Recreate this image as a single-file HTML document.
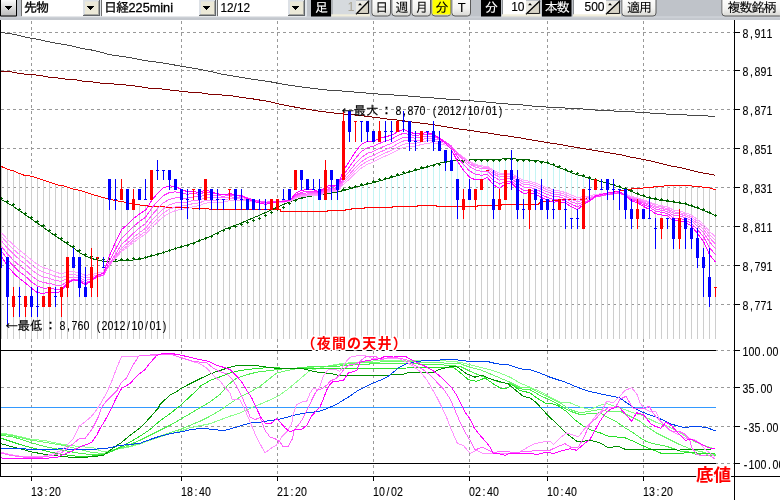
<!DOCTYPE html>
<html lang="ja"><head><meta charset="utf-8"><title>日経225mini 先物 チャート</title>
<style>
html,body{margin:0;padding:0;background:#fff;}
body{width:780px;height:500px;overflow:hidden;position:relative;font-family:'Liberation Sans','IPAGothic',sans-serif;}
</style></head><body>
<svg width="780" height="500" viewBox="0 0 780 500" style="position:absolute;left:0;top:0;display:block">
<rect x="0" y="0" width="780" height="500" fill="#fff"/>
<g stroke="#999" stroke-width="1" stroke-dasharray="3,3" shape-rendering="crispEdges" fill="none"><line x1="1" y1="32.5" x2="734" y2="32.5"/><line x1="1" y1="70.5" x2="734" y2="70.5"/><line x1="1" y1="109.5" x2="734" y2="109.5"/><line x1="1" y1="148.5" x2="734" y2="148.5"/><line x1="1" y1="187.5" x2="734" y2="187.5"/><line x1="1" y1="226.5" x2="734" y2="226.5"/><line x1="1" y1="265.5" x2="734" y2="265.5"/><line x1="1" y1="304.5" x2="734" y2="304.5"/><line x1="1" y1="387.5" x2="734" y2="387.5"/><line x1="1" y1="426.5" x2="734" y2="426.5"/><line x1="1" y1="350.5" x2="734" y2="350.5"/><line x1="1" y1="463.5" x2="734" y2="463.5"/><line x1="31.5" y1="21" x2="31.5" y2="476" stroke-dashoffset="0"/><line x1="181.5" y1="21" x2="181.5" y2="476" stroke-dashoffset="0"/><line x1="277.5" y1="21" x2="277.5" y2="476" stroke-dashoffset="0"/><line x1="373.5" y1="21" x2="373.5" y2="476" stroke-dashoffset="0"/><line x1="469.5" y1="21" x2="469.5" y2="476" stroke-dashoffset="0"/><line x1="547.5" y1="21" x2="547.5" y2="476" stroke-dashoffset="0"/><line x1="643.5" y1="21" x2="643.5" y2="476" stroke-dashoffset="0"/></g>
<path d="M1.5,167V339M7.5,169V339M13.5,171V339M19.5,174V339M25.5,176V339M31.5,176V339M37.5,178V339M43.5,180V339M49.5,182V339M55.5,184V339M61.5,186V339M67.5,187V339M73.5,189V339M79.5,190V339M85.5,192V339M91.5,194V339M97.5,196V339M103.5,198V339M109.5,199V339M115.5,201V339M121.5,201V339M127.5,203V339M133.5,204V339M139.5,205V339M145.5,206V339M151.5,206V339M157.5,207V339M163.5,207V339M169.5,207V339M175.5,208V339M181.5,208V339M187.5,208V339M193.5,208V339M199.5,208V339M205.5,208V339M211.5,210V339M217.5,210V339M223.5,210V339M229.5,210V339M235.5,210V339M241.5,210V339M247.5,210V339M253.5,210V339M259.5,210V339M265.5,210V339M271.5,210V339M277.5,210V339M283.5,212V339M289.5,212V339M295.5,212V339M301.5,212V339M307.5,212V339M313.5,212V339M319.5,212V339M325.5,212V339M331.5,210V339M337.5,210V339M343.5,210V339M349.5,210V339M355.5,208V339M361.5,208V339M367.5,208V339M373.5,208V339M379.5,208V339M385.5,208V339M391.5,208V339M397.5,206V339M403.5,206V339M409.5,206V339M415.5,206V339M421.5,206V339M427.5,206V339M433.5,206V339M439.5,206V339M445.5,206V339M451.5,206V339M457.5,206V339M463.5,206V339M469.5,206V339M475.5,206V339M481.5,206V339M487.5,206V339M493.5,206V339M499.5,206V339M505.5,204V339M511.5,204V339M517.5,204V339M523.5,204V339M529.5,204V339M535.5,204V339M541.5,202V339M547.5,201V339M553.5,201V339M559.5,200V339M565.5,200V339M571.5,200V339M577.5,200V339M583.5,199V339M589.5,198V339M595.5,196V339M601.5,195V339M607.5,194V339M613.5,192V339M619.5,191V339M625.5,190V339M631.5,189V339M637.5,188V339M643.5,188V339M649.5,187V339M655.5,187V339M661.5,186V339M667.5,186V339M673.5,186V339M679.5,186V339M685.5,186V339M691.5,186V339M697.5,186V339M703.5,187V339M709.5,188V339M715.5,190V339" stroke="#cecece" stroke-width="1" shape-rendering="crispEdges" fill="none"/>
<path d="M277.5,207V210M283.5,204V212M289.5,202V212M295.5,200V212M301.5,198V212M307.5,197V212M313.5,196V212M319.5,195V212M325.5,194V212M331.5,193V210M337.5,192V210M343.5,191V210M349.5,189V210M355.5,187V208M361.5,186V208M367.5,184V208M373.5,183V208M379.5,181V208M385.5,179V208M391.5,177V208M397.5,176V206M403.5,174V206M409.5,172V206M415.5,170V206M421.5,169V206M427.5,167V206M433.5,165V206M439.5,163V206M445.5,162V206M451.5,161V206M457.5,160V206M463.5,160V206M469.5,160V206M475.5,160V206M481.5,160V206M487.5,159V206M493.5,159V206M499.5,159V206M505.5,159V204M511.5,159V204M517.5,159V204M523.5,159V204M529.5,160V204M535.5,160V204M541.5,161V202M547.5,163V201M553.5,165V201M559.5,168V200M565.5,170V200M571.5,173V200M577.5,175V200M583.5,176V199M589.5,179V198M595.5,180V196M601.5,182V195M607.5,183V194M613.5,185V192M619.5,187V191M625.5,189V190" stroke="#c4f4f4" stroke-width="1" shape-rendering="crispEdges" fill="none"/>
<path d="M0,32.4 L1,32.5 L10,33.7 L16.7,35 L25,37 L31.7,38.3 L40,39.7 L48.3,41.7 L56.7,43.3 L66.7,45 L75,46.7 L83.3,48.7 L93.3,50.3 L101.7,52.5 L110,54.7 L120,56.2 L130,57.5 L140,59.7 L150,61.3 L160,62.5 L170,64.2 L181.7,66.3 L191.7,68 L201.7,69.7 L211.7,71.7 L221.7,74.2 L231.7,75.8 L241.7,77.5 L251.7,79.2 L260,80.3 L270,81.7 L280,83.7 L290,85.3 L300,86.7 L310,88 L320,89.2 L330,90.3 L340,90.8 L350,91.7 L360,92.5 L370,93.3 L380,94.2 L390,94.8 L400,95.3 L410,96.2 L420,97 L430,97.5 L440,98.7 L450,99.2 L460,100 L470,100.8 L480,101.3 L490,102.5 L500,103.3 L510,104.2 L520,104.7 L530,105.8 L540,106.7 L550,107.2 L561.7,107.5 L570,108.7 L580,108.7 L590,109.7 L600,110.3 L610,110.8 L620,111.3 L635,112 L643.3,112.5 L653.3,113.3 L670,114.2 L686.7,115 L703.3,115.8 L715.5,116.3" stroke="#484848" stroke-width="1" fill="none" shape-rendering="crispEdges"/>
<path d="M0,71.3 L1,71.3 L10,71.7 L16.7,73 L25,74.2 L33.3,74.7 L41.7,75.8 L50,77.5 L58.3,78 L66.7,79.2 L76.7,80 L83.3,81.3 L93.3,82 L101.7,83.3 L110,83.7 L120,84.5 L130,85.4 L140,86.7 L150,88.3 L160,88.8 L170,90 L181.7,91.3 L191.7,92.5 L201.7,93 L211.7,94.5 L221.7,95 L231.7,95.8 L241.7,97.5 L251.7,98.7 L260,100.1 L270,101.7 L280,104.2 L290,106.2 L300,108 L310,109.7 L320,111.3 L330,112.5 L340,113.7 L350,114.5 L360,115.5 L370,116.7 L380,118 L390,119.4 L400,120.3 L410,121.7 L420,123 L430,124.2 L440,125.8 L450,127.5 L460,129.2 L470,130.3 L480,132 L490,133.3 L500,135 L510,136.3 L520,137.9 L530,139.7 L540,141.3 L550,143 L560,144.5 L570,146.3 L580,148 L590,149.7 L600,151.3 L610,153 L620,154.6 L630,157 L640,158.7 L650,160.8 L660,163.3 L670,165.8 L680,167.5 L690,170 L700,172.5 L710,174.2 L715.5,175.3" stroke="#800000" stroke-width="1" fill="none" shape-rendering="crispEdges"/>
<path d="M0,166 L1,166.3 L7.5,169.2 L13.3,170.8 L20,173.8 L25,175.5 L31.7,176.2 L38.3,178.3 L45,180.8 L51.7,183 L58.3,185 L65,186.2 L71.7,188.8 L78.3,190 L85,192 L91.7,194.2 L98.3,196.2 L105,198 L110,199.2 L116.7,200.8 L123.3,201.7 L125,202.5 L135,204.2 L145,205.8 L158,206.7 L175,207.5 L192,208 L208,208.5 L210,209.5 L280,209.5 L281,211.5 L327,211.5 L328,210.5 L345,210.5 L346,209.5 L351,209.5 L352,208.5 L364,208.5 L365,207.5 L392,207.5 L393,206.5 L417,206.5 L418,205.5 L436,205.5 L437,206.5 L477,206.5 L478,205.5 L501,205.5 L502,204.5 L538,204.5 L540,202.5 L547,201.3 L555,200.8 L563,199.7 L578,199.7 L590,197.5 L622,190.3 L626.7,189.7 L633.3,188.7 L643.3,188 L656.7,186.7 L670,185.5 L686.7,185.5 L700,186.7 L710,188 L715.5,189.7" stroke="#ff0000" stroke-width="1" fill="none" shape-rendering="crispEdges"/>
<path d="M1.5,199.6 L7.5,203 L13.5,206.5 L19.5,210.7 L25.5,214.9 L31.5,219.1 L37.5,223.3 L43.5,227.5 L49.5,231.8 L55.5,236 L61.5,240.2 L67.5,244 L73.5,247.9 L79.5,252.5 L85.5,256.1 L91.5,258.4 L97.5,260.2 L103.5,261.4 L109.5,261.3 L115.5,261.1 L121.5,260.9 L127.5,260.6 L133.5,260 L139.5,259.3 L145.5,257.6 L151.5,255.9 L157.5,254.3 L163.5,252.6 L169.5,250.6 L175.5,248.5 L181.5,246.7 L187.5,244.9 L193.5,242.9 L199.5,240.7 L205.5,238.4 L211.5,235.9 L217.5,232.8 L223.5,229.7 L229.5,227.5 L235.5,225.3 L241.5,222.9 L247.5,220.2 L253.5,217.8 L259.5,215.3 L265.5,212.6 L271.5,209.9 L277.5,207.1 L283.5,204.4 L289.5,202 L295.5,199.6 L301.5,198.4 L307.5,196.7 L313.5,195.8 L319.5,195 L325.5,194 L331.5,193 L337.5,191.8 L343.5,190.6 L349.5,188.8 L355.5,187.2 L361.5,185.6 L367.5,184.1 L373.5,182.6 L379.5,180.9 L385.5,179.2 L391.5,177.4 L397.5,175.7 L403.5,173.8 L409.5,172.1 L415.5,170.3 L421.5,168.6 L427.5,166.9 L433.5,164.8 L439.5,163.1 L445.5,161.6 L451.5,160.8 L457.5,160 L463.5,160.1 L469.5,160 L475.5,159.9 L481.5,159.5 L487.5,159.1 L493.5,159.1 L499.5,159.1 L505.5,158.9 L511.5,158.7 L517.5,159.1 L523.5,159.5 L529.5,160 L535.5,160.5 L541.5,161.4 L547.5,163 L553.5,165.3 L559.5,167.8 L565.5,170 L571.5,172.9 L577.5,174.8 L583.5,176.3 L589.5,178.6 L595.5,180.2 L601.5,181.7 L607.5,183.2 L613.5,185.1 L619.5,187.1 L625.5,189.1 L631.5,191.5 L637.5,194.1 L643.5,196.1 L649.5,198.1 L655.5,199.3 L661.5,200.4 L667.5,201.2 L673.5,202 L679.5,203 L685.5,204 L691.5,206 L697.5,208 L703.5,210.4 L709.5,212.8 L715.5,215.7" stroke="#006400" stroke-width="1" fill="none" shape-rendering="crispEdges"/>
<path d="M0.0,198.5H3.0M1.5,197.0V200.0M6.0,201.5H9.0M7.5,200.0V203.0M12.0,204.5H15.0M13.5,203.0V206.0M18.0,209.5H21.0M19.5,208.0V211.0M24.0,213.5H27.0M25.5,212.0V215.0M30.0,217.5H33.0M31.5,216.0V219.0M36.0,221.5H39.0M37.5,220.0V223.0M42.0,225.5H45.0M43.5,224.0V227.0M48.0,230.5H51.0M49.5,229.0V232.0M54.0,234.5H57.0M55.5,233.0V236.0M60.0,238.5H63.0M61.5,237.0V240.0M66.0,242.5H69.0M67.5,241.0V244.0M72.0,246.5H75.0M73.5,245.0V248.0M78.0,250.5H81.0M79.5,249.0V252.0M84.0,254.5H87.0M85.5,253.0V256.0M90.0,256.5H93.0M91.5,255.0V258.0M96.0,258.5H99.0M97.5,257.0V260.0M102.0,259.5H105.0M103.5,258.0V261.0M108.0,259.5H111.0M109.5,258.0V261.0M114.0,259.5H117.0M115.5,258.0V261.0M120.0,259.5H123.0M121.5,258.0V261.0M126.0,259.5H129.0M127.5,258.0V261.0M132.0,258.5H135.0M133.5,257.0V260.0M138.0,258.5H141.0M139.5,257.0V260.0M144.0,257.5H147.0M145.5,256.0V259.0M150.0,255.5H153.0M151.5,254.0V257.0M156.0,254.5H159.0M157.5,253.0V256.0M162.0,252.5H165.0M163.5,251.0V254.0M168.0,250.5H171.0M169.5,249.0V252.0M174.0,248.5H177.0M175.5,247.0V250.0M180.0,246.5H183.0M181.5,245.0V248.0M186.0,245.5H189.0M187.5,244.0V247.0M192.0,243.5H195.0M193.5,242.0V245.0M198.0,240.5H201.0M199.5,239.0V242.0M204.0,238.5H207.0M205.5,237.0V240.0M210.0,236.5H213.0M211.5,235.0V238.0M216.0,233.5H219.0M217.5,232.0V235.0M222.0,230.5H225.0M223.5,229.0V232.0M228.0,228.5H231.0M229.5,227.0V230.0M234.0,226.5H237.0M235.5,225.0V228.0M240.0,224.5H243.0M241.5,223.0V226.0M246.0,222.5H249.0M247.5,221.0V224.0M252.0,220.5H255.0M253.5,219.0V222.0M258.0,218.5H261.0M259.5,217.0V220.0M264.0,215.5H267.0M265.5,214.0V217.0M270.0,212.5H273.0M271.5,211.0V214.0M276.0,209.5H279.0M277.5,208.0V211.0M282.0,207.5H285.0M283.5,206.0V209.0M288.0,203.5H291.0M289.5,202.0V205.0M294.0,200.5H297.0M295.5,199.0V202.0M300.0,197.5H303.0M301.5,196.0V199.0M306.0,195.5H309.0M307.5,194.0V197.0M312.0,194.5H315.0M313.5,193.0V196.0M318.0,193.5H321.0M319.5,192.0V195.0M324.0,192.5H327.0M325.5,191.0V194.0M330.0,191.5H333.0M331.5,190.0V193.0M336.0,190.5H339.0M337.5,189.0V192.0M342.0,189.5H345.0M343.5,188.0V191.0M348.0,187.5H351.0M349.5,186.0V189.0M354.0,186.5H357.0M355.5,185.0V188.0M360.0,184.5H363.0M361.5,183.0V186.0M366.0,183.5H369.0M367.5,182.0V185.0M372.0,181.5H375.0M373.5,180.0V183.0M378.0,179.5H381.0M379.5,178.0V181.0M384.0,178.5H387.0M385.5,177.0V180.0M390.0,176.5H393.0M391.5,175.0V178.0M396.0,174.5H399.0M397.5,173.0V176.0M402.0,172.5H405.0M403.5,171.0V174.0M408.0,171.5H411.0M409.5,170.0V173.0M414.0,169.5H417.0M415.5,168.0V171.0M420.0,167.5H423.0M421.5,166.0V169.0M426.0,166.5H429.0M427.5,165.0V168.0M432.0,165.5H435.0M433.5,164.0V167.0M438.0,164.5H441.0M439.5,163.0V166.0M444.0,162.5H447.0M445.5,161.0V164.0M450.0,161.5H453.0M451.5,160.0V163.0M456.0,160.5H459.0M457.5,159.0V162.0M462.0,161.5H465.0M463.5,160.0V163.0M468.0,161.5H471.0M469.5,160.0V163.0M474.0,160.5H477.0M475.5,159.0V162.0M480.0,160.5H483.0M481.5,159.0V162.0M486.0,160.5H489.0M487.5,159.0V162.0M492.0,160.5H495.0M493.5,159.0V162.0M498.0,160.5H501.0M499.5,159.0V162.0M504.0,159.5H507.0M505.5,158.0V161.0M510.0,159.5H513.0M511.5,158.0V161.0M516.0,160.5H519.0M517.5,159.0V162.0M522.0,160.5H525.0M523.5,159.0V162.0M528.0,160.5H531.0M529.5,159.0V162.0M534.0,161.5H537.0M535.5,160.0V163.0M540.0,162.5H543.0M541.5,161.0V164.0M546.0,162.5H549.0M547.5,161.0V164.0M552.0,164.5H555.0M553.5,163.0V166.0M558.0,166.5H561.0M559.5,165.0V168.0M564.0,169.5H567.0M565.5,168.0V171.0M570.0,171.5H573.0M571.5,170.0V173.0M576.0,173.5H579.0M577.5,172.0V175.0M582.0,175.5H585.0M583.5,174.0V177.0M588.0,177.5H591.0M589.5,176.0V179.0M594.0,179.5H597.0M595.5,178.0V181.0M600.0,181.5H603.0M601.5,180.0V183.0M606.0,182.5H609.0M607.5,181.0V184.0M612.0,184.5H615.0M613.5,183.0V186.0M618.0,186.5H621.0M619.5,185.0V188.0M624.0,188.5H627.0M625.5,187.0V190.0M630.0,190.5H633.0M631.5,189.0V192.0M636.0,193.5H639.0M637.5,192.0V195.0M642.0,195.5H645.0M643.5,194.0V197.0M648.0,197.5H651.0M649.5,196.0V199.0M654.0,198.5H657.0M655.5,197.0V200.0M660.0,199.5H663.0M661.5,198.0V201.0M666.0,200.5H669.0M667.5,199.0V202.0M672.0,201.5H675.0M673.5,200.0V203.0M678.0,202.5H681.0M679.5,201.0V204.0M684.0,203.5H687.0M685.5,202.0V205.0M690.0,205.5H693.0M691.5,204.0V207.0M696.0,207.5H699.0M697.5,206.0V209.0M702.0,209.5H705.0M703.5,208.0V211.0M708.0,212.5H711.0M709.5,211.0V214.0M714.0,215.5H717.0M715.5,214.0V217.0" stroke="#006400" stroke-width="1" fill="none" shape-rendering="crispEdges"/>
<path d="M1.5,233 L7.5,239.3 L13.5,245 L19.5,250.2 L25.5,254.8 L31.5,259.9 L37.5,264.5 L43.5,267.7 L49.5,269.6 L55.5,272.3 L61.5,273.7 L67.5,272.1 L73.5,271.6 L79.5,273.1 L85.5,275.4 L91.5,274.6 L97.5,272.9 L103.5,272.3 L109.5,265 L115.5,258.4 L121.5,251.5 L127.5,247.2 L133.5,242.4 L139.5,238 L145.5,234.1 L151.5,227.7 L157.5,221.9 L163.5,216.7 L169.5,212.9 L175.5,210.6 L181.5,209.4 L187.5,208.4 L193.5,206.5 L199.5,205.7 L205.5,203.1 L211.5,202.7 L217.5,202.3 L223.5,202 L229.5,200.7 L235.5,200.5 L241.5,200.4 L247.5,201.2 L253.5,201.9 L259.5,202.6 L265.5,203.2 L271.5,202.8 L277.5,202.4 L283.5,202.1 L289.5,201.8 L295.5,198.6 L301.5,196.7 L307.5,195.9 L313.5,195.2 L319.5,195.6 L325.5,193 L331.5,191.7 L337.5,191.4 L343.5,184.4 L349.5,179 L355.5,173.2 L361.5,168 L367.5,164.3 L373.5,161.9 L379.5,158.8 L385.5,156 L391.5,153.5 L397.5,150.2 L403.5,147.3 L409.5,146.6 L415.5,146 L421.5,144.5 L427.5,143.1 L433.5,142.9 L439.5,143.6 L445.5,145.2 L451.5,147.7 L457.5,152.8 L463.5,157.4 L469.5,161.6 L475.5,164.3 L481.5,165.9 L487.5,166.3 L493.5,170.5 L499.5,173.3 L505.5,173 L511.5,173.6 L517.5,177.1 L523.5,180.3 L529.5,181.2 L535.5,183 L541.5,185.5 L547.5,187.9 L553.5,189.9 L559.5,190.8 L565.5,192.6 L571.5,195.2 L577.5,197.5 L583.5,196.7 L589.5,196 L595.5,194.3 L601.5,193.8 L607.5,193.3 L613.5,192.9 L619.5,192.6 L625.5,194.2 L631.5,196.6 L637.5,197.8 L643.5,199.9 L649.5,201.7 L655.5,204.4 L661.5,205.8 L667.5,207 L673.5,210.1 L679.5,211 L685.5,212.7 L691.5,215.2 L697.5,219.4 L703.5,224.2 L709.5,231.4 L715.5,236.9" stroke="#ffa4ff" stroke-width="1" fill="none" shape-rendering="crispEdges"/>
<path d="M1.5,236.6 L7.5,243.3 L13.5,249.3 L19.5,254.6 L25.5,259.3 L31.5,264.6 L37.5,269.2 L43.5,272.3 L49.5,273.9 L55.5,276.4 L61.5,277.6 L67.5,275.3 L73.5,274.4 L79.5,275.8 L85.5,278.1 L91.5,276.8 L97.5,274.7 L103.5,273.8 L109.5,265.4 L115.5,257.9 L121.5,250.2 L127.5,245.5 L133.5,240.3 L139.5,235.6 L145.5,231.5 L151.5,224.6 L157.5,218.4 L163.5,212.9 L169.5,209.2 L175.5,206.9 L181.5,206 L187.5,205.2 L193.5,203.4 L199.5,202.9 L205.5,200.3 L211.5,200.1 L217.5,200 L223.5,199.9 L229.5,198.7 L235.5,198.7 L241.5,198.7 L247.5,199.9 L253.5,200.9 L259.5,201.7 L265.5,202.5 L271.5,202.1 L277.5,201.8 L283.5,201.5 L289.5,201.2 L295.5,197.6 L301.5,195.6 L307.5,194.9 L313.5,194.2 L319.5,194.8 L325.5,192 L331.5,190.6 L337.5,190.4 L343.5,182.6 L349.5,176.8 L355.5,170.5 L361.5,164.9 L367.5,161.1 L373.5,158.8 L379.5,155.6 L385.5,152.8 L391.5,150.4 L397.5,147.1 L403.5,144.1 L409.5,143.7 L415.5,143.4 L421.5,141.9 L427.5,140.7 L433.5,140.7 L439.5,141.7 L445.5,143.8 L451.5,146.7 L457.5,152.6 L463.5,157.8 L469.5,162.4 L475.5,165.5 L481.5,167 L487.5,167.3 L493.5,172 L499.5,175 L505.5,174.4 L511.5,175 L517.5,178.8 L523.5,182.2 L529.5,182.9 L535.5,184.8 L541.5,187.4 L547.5,189.8 L553.5,192 L559.5,192.7 L565.5,194.5 L571.5,197.2 L577.5,199.6 L583.5,198.4 L589.5,197.4 L595.5,195.4 L601.5,194.7 L607.5,194.1 L613.5,193.5 L619.5,193 L625.5,194.8 L631.5,197.5 L637.5,198.7 L643.5,200.9 L649.5,202.9 L655.5,205.8 L661.5,207.2 L667.5,208.5 L673.5,211.8 L679.5,212.5 L685.5,214.3 L691.5,216.9 L697.5,221.5 L703.5,226.6 L709.5,234.5 L715.5,240.3" stroke="#ff90ff" stroke-width="1" fill="none" shape-rendering="crispEdges"/>
<path d="M1.5,241 L7.5,248.1 L13.5,254.2 L19.5,259.6 L25.5,264.3 L31.5,269.6 L37.5,274.3 L43.5,277.1 L49.5,278.3 L55.5,280.6 L61.5,281.4 L67.5,278.3 L73.5,276.9 L79.5,278.1 L85.5,280.5 L91.5,278.8 L97.5,276 L103.5,274.9 L109.5,265.2 L115.5,256.8 L121.5,248.2 L127.5,243.1 L133.5,237.5 L139.5,232.6 L145.5,228.3 L151.5,220.8 L157.5,214.3 L163.5,208.6 L169.5,204.9 L175.5,202.9 L181.5,202.4 L187.5,202 L193.5,200.3 L199.5,200.2 L205.5,197.5 L211.5,197.7 L217.5,197.9 L223.5,198 L229.5,196.9 L235.5,197.2 L241.5,197.4 L247.5,198.8 L253.5,200.1 L259.5,201.2 L265.5,202.1 L271.5,201.7 L277.5,201.4 L283.5,201.1 L289.5,200.8 L295.5,196.8 L301.5,194.6 L307.5,193.9 L313.5,193.3 L319.5,194.1 L325.5,191 L331.5,189.5 L337.5,189.5 L343.5,180.7 L349.5,174.4 L355.5,167.6 L361.5,161.6 L367.5,157.7 L373.5,155.5 L379.5,152.4 L385.5,149.6 L391.5,147.2 L397.5,143.9 L403.5,141 L409.5,140.9 L415.5,140.9 L421.5,139.6 L427.5,138.4 L433.5,138.7 L439.5,140.2 L445.5,142.7 L451.5,146.2 L457.5,152.9 L463.5,158.8 L469.5,163.9 L475.5,167.1 L481.5,168.7 L487.5,168.8 L493.5,173.9 L499.5,177.1 L505.5,176.2 L511.5,176.6 L517.5,180.7 L523.5,184.3 L529.5,184.9 L535.5,186.7 L541.5,189.5 L547.5,191.9 L553.5,194.1 L559.5,194.7 L565.5,196.5 L571.5,199.3 L577.5,201.7 L583.5,200.1 L589.5,198.7 L595.5,196.3 L601.5,195.4 L607.5,194.6 L613.5,193.9 L619.5,193.3 L625.5,195.3 L631.5,198.2 L637.5,199.6 L643.5,202 L649.5,204.1 L655.5,207.1 L661.5,208.6 L667.5,209.8 L673.5,213.4 L679.5,214.1 L685.5,215.9 L691.5,218.7 L697.5,223.6 L703.5,229.2 L709.5,237.7 L715.5,244" stroke="#ff78ff" stroke-width="1" fill="none" shape-rendering="crispEdges"/>
<path d="M1.5,246.5 L7.5,254 L13.5,260.3 L19.5,265.7 L25.5,270.3 L31.5,275.7 L37.5,280.3 L43.5,282.7 L49.5,283.3 L55.5,285.2 L61.5,285.4 L67.5,281.2 L73.5,279.1 L79.5,280.2 L85.5,282.7 L91.5,280.3 L97.5,276.9 L103.5,275.4 L109.5,264 L115.5,254.2 L121.5,244.5 L127.5,239.1 L133.5,233.1 L139.5,228 L145.5,223.6 L151.5,215.5 L157.5,208.7 L163.5,202.8 L169.5,199.3 L175.5,197.8 L181.5,198 L187.5,198.1 L193.5,196.8 L199.5,197.1 L205.5,194.5 L211.5,195.1 L217.5,195.7 L223.5,196.2 L229.5,195.2 L235.5,195.7 L241.5,196.2 L247.5,198.1 L253.5,199.7 L259.5,201 L265.5,202.2 L271.5,201.7 L277.5,201.3 L283.5,200.9 L289.5,200.6 L295.5,196 L301.5,193.5 L307.5,192.9 L313.5,192.3 L319.5,193.3 L325.5,189.8 L331.5,188.2 L337.5,188.4 L343.5,178.3 L349.5,171.2 L355.5,163.6 L361.5,157.3 L367.5,153.3 L373.5,151.4 L379.5,148.3 L385.5,145.7 L391.5,143.4 L397.5,140.1 L403.5,137.2 L409.5,137.7 L415.5,138.1 L421.5,137 L427.5,136.1 L433.5,136.8 L439.5,138.8 L445.5,142 L451.5,146.1 L457.5,154.1 L463.5,160.8 L469.5,166.5 L475.5,169.9 L481.5,171.4 L487.5,171.1 L493.5,176.8 L499.5,180.1 L505.5,178.5 L511.5,178.7 L517.5,183.2 L523.5,187 L529.5,187.3 L535.5,189.1 L541.5,192 L547.5,194.5 L553.5,196.7 L559.5,197 L565.5,198.8 L571.5,201.7 L577.5,204.2 L583.5,202 L589.5,200.1 L595.5,197 L601.5,195.8 L607.5,194.8 L613.5,194 L619.5,193.3 L625.5,195.6 L631.5,199 L637.5,200.5 L643.5,203.2 L649.5,205.5 L655.5,208.9 L661.5,210.3 L667.5,211.5 L673.5,215.5 L679.5,215.9 L685.5,217.8 L691.5,220.8 L697.5,226.3 L703.5,232.4 L709.5,242 L715.5,248.7" stroke="#ff58ff" stroke-width="1" fill="none" shape-rendering="crispEdges"/>
<path d="M1.5,251 L7.5,259.4 L13.5,266.2 L19.5,271.8 L25.5,276.3 L31.5,281.9 L37.5,286.3 L43.5,288.2 L49.5,287.9 L55.5,289.5 L61.5,288.9 L67.5,283.1 L73.5,280.2 L79.5,281.3 L85.5,284.1 L91.5,281 L97.5,276.6 L103.5,274.9 L109.5,260.8 L115.5,249.4 L121.5,238.2 L127.5,232.8 L133.5,226.5 L139.5,221.4 L145.5,217.3 L151.5,208.5 L157.5,201.3 L163.5,195.5 L169.5,192.5 L175.5,191.9 L181.5,193.2 L187.5,194.3 L193.5,193.3 L199.5,194.4 L205.5,191.6 L211.5,193 L217.5,194.1 L223.5,195 L229.5,193.9 L235.5,194.9 L241.5,195.6 L247.5,198 L253.5,200 L259.5,201.6 L265.5,202.9 L271.5,202.2 L277.5,201.6 L283.5,201.1 L289.5,200.7 L295.5,195 L301.5,192.1 L307.5,191.6 L313.5,191.1 L319.5,192.6 L325.5,188.4 L331.5,186.7 L337.5,187.2 L343.5,174.9 L349.5,166.8 L355.5,158.3 L361.5,151.4 L367.5,147.6 L373.5,146.3 L379.5,143.4 L385.5,141.1 L391.5,139.2 L397.5,135.8 L403.5,133.1 L409.5,134.5 L415.5,135.6 L421.5,134.7 L427.5,134 L433.5,135.2 L439.5,138 L445.5,142 L451.5,147.2 L457.5,156.8 L463.5,164.6 L469.5,170.9 L475.5,174.3 L481.5,175.3 L487.5,174.2 L493.5,180.6 L499.5,184 L505.5,181.4 L511.5,181 L517.5,186.1 L523.5,190.3 L529.5,190.1 L535.5,191.7 L541.5,194.9 L547.5,197.4 L553.5,199.5 L559.5,199.4 L565.5,201.1 L571.5,204.3 L577.5,206.9 L583.5,203.7 L589.5,201 L595.5,197 L601.5,195.6 L607.5,194.4 L613.5,193.4 L619.5,192.7 L625.5,195.6 L631.5,199.8 L637.5,201.5 L643.5,204.6 L649.5,207.2 L655.5,211.1 L661.5,212.4 L667.5,213.5 L673.5,218.1 L679.5,218.1 L685.5,220 L691.5,223.3 L697.5,229.6 L703.5,236.6 L709.5,247.6 L715.5,254.8" stroke="#ff30ff" stroke-width="1" fill="none" shape-rendering="crispEdges"/>
<path d="M1.5,256.4 L7.5,265.9 L13.5,273.1 L19.5,278.6 L25.5,282.9 L31.5,288.4 L37.5,292.6 L43.5,293.5 L49.5,291.9 L55.5,292.9 L61.5,291.4 L67.5,283.3 L73.5,279.5 L79.5,281.2 L85.5,284.8 L91.5,280.6 L97.5,275.1 L103.5,273.2 L109.5,255.6 L115.5,242.1 L121.5,229.6 L127.5,224.6 L133.5,218.5 L139.5,213.9 L145.5,210.3 L151.5,200.7 L157.5,193.3 L163.5,187.7 L169.5,185.8 L175.5,186.6 L181.5,189.5 L187.5,191.8 L193.5,191.2 L199.5,193 L205.5,189.8 L211.5,192 L217.5,193.6 L223.5,194.9 L229.5,193.6 L235.5,194.8 L241.5,195.8 L247.5,198.9 L253.5,201.2 L259.5,203 L265.5,204.3 L271.5,203.1 L277.5,202.1 L283.5,201.3 L289.5,200.8 L295.5,193.4 L301.5,190.1 L307.5,189.9 L313.5,189.7 L319.5,191.9 L325.5,186.7 L331.5,185 L337.5,186 L343.5,170.5 L349.5,161.1 L355.5,151.6 L361.5,144.3 L367.5,141.1 L373.5,141 L379.5,138.6 L385.5,136.7 L391.5,135.3 L397.5,131.9 L403.5,129.3 L409.5,132 L415.5,134 L421.5,133.2 L427.5,132.7 L433.5,134.5 L439.5,138.3 L445.5,143.4 L451.5,149.7 L457.5,161.4 L463.5,170.3 L469.5,177.1 L475.5,180 L481.5,179.9 L487.5,177.5 L493.5,184.9 L499.5,188.2 L505.5,183.8 L511.5,182.8 L517.5,189 L523.5,193.6 L529.5,192.6 L535.5,194.1 L541.5,197.6 L547.5,200.2 L553.5,202.2 L559.5,201.5 L565.5,203.2 L571.5,206.8 L577.5,209.6 L583.5,204.7 L589.5,201 L595.5,195.9 L601.5,194.3 L607.5,193.1 L613.5,192.2 L619.5,191.5 L625.5,195.6 L631.5,201 L637.5,202.8 L643.5,206.5 L649.5,209.4 L655.5,213.8 L661.5,214.9 L667.5,215.8 L673.5,221 L679.5,220.4 L685.5,222.3 L691.5,226 L697.5,233.4 L703.5,241.4 L709.5,254.5 L715.5,262.1" stroke="#ff00ff" stroke-width="1" fill="none" shape-rendering="crispEdges"/>
<path d="M13,287h1V317h-1zM12,296h3V307h-3zM25,296h1V317h-1zM24,296h3V307h-3zM43,296h1V307h-1zM42,296h3V307h-3zM49,287h1V307h-1zM48,287h3V307h-3zM61,287h1V317h-1zM60,287h3V297h-3zM67,257h1V297h-1zM66,257h3V288h-3zM91,248h1V297h-1zM90,267h3V288h-3zM97,257h1V297h-1zM96,257h3v1h-3zM121,179h1V200h-1zM120,189h3V200h-3zM133,189h1V210h-1zM132,199h3V210h-3zM151,170h1V200h-1zM150,170h3V200h-3zM193,189h1V200h-1zM192,189h3v1h-3zM205,179h1V200h-1zM204,179h3V200h-3zM229,189h1V200h-1zM228,189h3v1h-3zM271,199h1V210h-1zM270,199h3V210h-3zM277,199h1V210h-1zM276,199h3V210h-3zM295,170h1V190h-1zM294,170h3V190h-3zM325,160h1V200h-1zM324,170h3V200h-3zM343,111h1V180h-1zM342,121h3V180h-3zM355,121h1V142h-1zM354,121h3v1h-3zM379,121h1V142h-1zM378,131h3V142h-3zM397,121h1V132h-1zM396,121h3V132h-3zM421,131h1V142h-1zM420,131h3V142h-3zM463,189h1V219h-1zM462,199h3V210h-3zM475,189h1V210h-1zM474,189h3V200h-3zM481,179h1V190h-1zM480,179h3V190h-3zM486,170h3v1h-3zM499,189h1V210h-1zM498,199h3V210h-3zM505,170h1V200h-1zM504,170h3V200h-3zM529,189h1V229h-1zM528,189h3V210h-3zM559,199h1V210h-1zM558,199h3V210h-3zM583,189h1V229h-1zM582,189h3V229h-3zM595,179h1V190h-1zM594,179h3V190h-3zM637,199h1V229h-1zM636,209h3V219h-3zM661,218h1V239h-1zM660,218h3V229h-3zM679,209h1V249h-1zM678,218h3V239h-3zM715,287h1V297h-1zM714,287h3v1h-3z" fill="#ff0000" shape-rendering="crispEdges"/>
<path d="M0,248h1V268h-1zM-1,248h3V268h-3zM7,257h1V327h-1zM6,257h3V297h-3zM19,287h1V317h-1zM18,296h3v1h-3zM31,287h1V317h-1zM30,296h3V307h-3zM37,287h1V317h-1zM36,306h3v1h-3zM55,287h1V307h-1zM54,296h3v1h-3zM73,248h1V268h-1zM72,257h3V268h-3zM79,257h1V297h-1zM78,257h3V288h-3zM85,267h1V297h-1zM84,287h3V297h-3zM103,257h1V268h-1zM102,267h3v1h-3zM109,179h1V210h-1zM108,179h3V200h-3zM115,179h1V210h-1zM114,199h3v1h-3zM127,189h1V210h-1zM126,189h3V210h-3zM139,189h1V200h-1zM138,189h3V200h-3zM145,179h1V200h-1zM144,199h3v1h-3zM157,160h1V180h-1zM156,170h3v1h-3zM163,170h1V180h-1zM162,170h3v1h-3zM169,170h1V190h-1zM168,170h3V180h-3zM175,179h1V190h-1zM174,179h3V190h-3zM181,189h1V210h-1zM180,189h3V200h-3zM187,189h1V219h-1zM186,199h3v1h-3zM199,189h1V210h-1zM198,189h3V200h-3zM211,189h1V210h-1zM210,189h3V200h-3zM217,189h1V210h-1zM216,199h3v1h-3zM223,199h1V210h-1zM222,199h3v1h-3zM235,189h1V210h-1zM234,189h3V200h-3zM241,189h1V210h-1zM240,199h3v1h-3zM247,199h1V210h-1zM246,199h3V210h-3zM253,199h1V210h-1zM252,199h3V210h-3zM259,199h1V210h-1zM258,209h3v1h-3zM265,199h1V210h-1zM264,209h3v1h-3zM283,189h1V200h-1zM282,199h3v1h-3zM289,189h1V200h-1zM288,189h3V200h-3zM301,170h1V190h-1zM300,170h3V180h-3zM307,179h1V190h-1zM306,179h3V190h-3zM313,179h1V190h-1zM312,189h3v1h-3zM319,179h1V200h-1zM318,189h3V200h-3zM331,170h1V200h-1zM330,170h3V180h-3zM337,179h1V200h-1zM336,179h3V190h-3zM349,111h1V142h-1zM348,111h3V132h-3zM361,121h1V142h-1zM360,121h3v1h-3zM367,121h1V142h-1zM366,121h3V132h-3zM373,131h1V142h-1zM372,131h3V142h-3zM385,121h1V142h-1zM384,131h3v1h-3zM391,121h1V142h-1zM390,131h3v1h-3zM403,111h1V132h-1zM402,121h3v1h-3zM409,121h1V151h-1zM408,121h3V142h-3zM415,131h1V151h-1zM414,141h3v1h-3zM427,131h1V142h-1zM426,131h3v1h-3zM433,121h1V151h-1zM432,131h3V142h-3zM439,131h1V151h-1zM438,141h3V151h-3zM445,150h1V171h-1zM444,150h3V161h-3zM451,150h1V171h-1zM450,160h3V171h-3zM457,179h1V219h-1zM456,179h3V200h-3zM469,179h1V200h-1zM468,189h3V200h-3zM493,170h1V219h-1zM492,199h3V210h-3zM511,150h1V190h-1zM510,170h3V180h-3zM517,170h1V219h-1zM516,179h3V210h-3zM523,199h1V219h-1zM522,209h3v1h-3zM535,189h1V210h-1zM534,189h3V200h-3zM541,179h1V210h-1zM540,199h3V210h-3zM547,199h1V219h-1zM546,199h3V210h-3zM553,189h1V219h-1zM552,209h3v1h-3zM565,199h1V229h-1zM564,209h3v1h-3zM571,218h1V229h-1zM570,218h3v1h-3zM577,209h1V229h-1zM576,218h3v1h-3zM589,179h1V200h-1zM588,189h3v1h-3zM601,179h1V190h-1zM600,189h3v1h-3zM607,179h1V200h-1zM606,179h3V190h-3zM613,179h1V200h-1zM612,189h3v1h-3zM619,189h1V210h-1zM618,189h3v1h-3zM625,189h1V219h-1zM624,189h3V210h-3zM631,199h1V229h-1zM630,209h3V219h-3zM643,209h1V219h-1zM642,209h3V219h-3zM649,199h1V219h-1zM648,218h3v1h-3zM655,218h1V249h-1zM654,228h3v1h-3zM667,218h1V229h-1zM666,218h3v1h-3zM673,218h1V249h-1zM672,218h3V239h-3zM685,218h1V249h-1zM684,218h3V229h-3zM691,218h1V249h-1zM690,228h3V239h-3zM697,228h1V268h-1zM696,238h3V258h-3zM703,248h1V297h-1zM702,257h3V268h-3zM709,248h1V307h-1zM708,277h3V297h-3z" fill="#0000ff" shape-rendering="crispEdges"/>
<line x1="1" y1="407.5" x2="716" y2="407.5" stroke="#3399ff" stroke-width="1.2" shape-rendering="crispEdges"/>
<path d="M0,432.8 L13.3,435 L31.7,439.5 L43.3,440.3 L63.3,444.5 L76.7,446.2 L93.3,447.8 L103.3,452 L116.7,449 L120,448.7 L130,446.7 L140,444 L150,440.3 L160,437 L170,433.7 L180,431.2 L190,427.8 L200,425.7 L210,423.7 L220,420 L230,416.2 L240,412.9 L250,408.4 L260,404.2 L270,400 L280,395 L288.3,388.8 L298.3,380.5 L305,374.7 L310,370.5 L320,368 L330,365.5 L340,363.8 L356.7,362.2 L373.3,361 L390,360.5 L406.7,360 L423.3,360 L440,360.5 L453.3,361.7 L460,362.2 L470,364.7 L480,367.2 L490,369.7 L500,373 L510,377.2 L520,383 L530,387.2 L540,391.3 L550,397 L560,402 L570,402.8 L580,407 L590,409.5 L600,405.3 L606.7,403.7 L616.7,407 L626.7,410.3 L636.7,414 L640,414.6 L647.8,418.2 L655.6,422.1 L663.4,424.7 L671.2,428 L679,431.9 L686.8,437.1 L694.6,441.6 L702.4,444.9 L710.2,447.5 L715.5,449.2" stroke="#8cff8c" stroke-width="1" fill="none" stroke-linejoin="round" shape-rendering="crispEdges"/>
<path d="M0,434 L13.3,435.7 L31.7,440.3 L43.3,442 L63.3,445.3 L76.7,448.7 L90,452 L103.3,453.7 L116.7,449.5 L120,448.3 L130,446.2 L140,443.3 L150,439.5 L160,436.2 L170,432.8 L180,429.5 L190,425.3 L200,421.2 L210,416.2 L220,410.3 L230,403.5 L240,397 L250,392 L260,386.3 L268.3,379.7 L276.7,373 L286.7,370.5 L296.7,368.8 L310,367.2 L326.7,366.3 L340,364.7 L356.7,363 L373.3,362.2 L390,361.7 L406.7,361.7 L423.3,362.2 L440,362.7 L453.3,363.8 L460,363.8 L470,367.2 L480,369.7 L490,373.8 L500,378 L510,382.2 L520,387.2 L530,388 L540,393 L550,398 L560,402.8 L570,409.5 L580,412.8 L590,411.2 L600,409.5 L610,412 L620,411.2 L630,416.2 L640,421.3 L647.8,427.3 L655.6,432.5 L663.4,436.4 L671.2,440.3 L679,444.2 L686.8,447.5 L694.6,450.1 L702.4,452 L710.2,454 L715.5,454.6" stroke="#70f870" stroke-width="1" fill="none" stroke-linejoin="round" shape-rendering="crispEdges"/>
<path d="M0,435.3 L13.3,437 L31.7,442.8 L43.3,446.2 L63.3,450.3 L76.7,452.8 L90,454.5 L103.3,454.5 L116.7,449.5 L120,447.8 L130,444.5 L140,440.3 L150,435.3 L160,430.3 L170,425.3 L180,419.5 L190,413.7 L200,407.8 L210,402 L220,394.5 L228.3,384.7 L236.7,378 L246.7,374.7 L256.7,372.2 L270,370.5 L283.3,368.8 L296.7,368 L310,366.7 L326.7,366 L340,366 L356.7,364.7 L373.3,363.8 L390,363.3 L406.7,363.3 L423.3,364.3 L440,364.7 L450,365.5 L460,366.3 L470,371.3 L480,375.5 L490,378.8 L500,382.2 L510,383.8 L520,388.8 L530,389.7 L540,395.5 L550,400 L560,405.3 L570,411.2 L580,414.5 L590,413.7 L600,412.8 L606.7,417 L616.7,422 L625,427.8 L633.3,432.8 L640,437.7 L646.5,441.6 L655.6,444.2 L666,446.2 L673.8,448.8 L681.6,451.4 L689.4,452 L697.2,454.6 L707.6,455.9 L715.5,455.3" stroke="#50f050" stroke-width="1" fill="none" stroke-linejoin="round" shape-rendering="crispEdges"/>
<path d="M0,437.8 L10,441.2 L20,444.5 L31.7,447.8 L43.3,450.3 L53.3,452.8 L63.3,454.5 L76.7,456.2 L90,456.2 L100,455.3 L106.7,453.7 L116.7,448.7 L120,447 L130,442 L140,436.2 L150,429.5 L160,420.8 L170,413.7 L180,405.8 L190,396.6 L198.3,388.7 L200,386.3 L210,380.5 L220,376.8 L230,373 L240,370.5 L253.3,368.8 L266.7,367.7 L280,368 L340,368.3 L390,368.3 L406.7,368 L420,367.7 L433.3,368 L446.7,367.7 L453.3,367.2 L460,372.5 L468.3,379.7 L476.7,381.3 L485,378 L493.3,383.8 L500,388 L506.7,388 L513.3,385.5 L520,390.5 L530,392.8 L536.7,398 L546.7,403.8 L550,403 L558.3,405.8 L566.7,411.7 L575,420 L583.3,426.2 L591.7,430.3 L600,432.8 L608.3,436.2 L616.7,437 L625,437.8 L633.3,441.2 L641.7,445.3 L650,448.7 L658.3,452 L660.8,453.1 L671.2,453.3 L681.6,453.1 L692,452.7 L702.4,453.3 L715.5,453.6" stroke="#28e028" stroke-width="1" fill="none" stroke-linejoin="round" shape-rendering="crispEdges"/>
<path d="M0,443.3 L10,446.2 L20,448.7 L31.7,452 L43.3,454 L53.3,455.3 L63.3,456.7 L73.3,457.3 L83.3,457.3 L93.3,456.7 L103.3,455.3 L110,450.3 L116.7,445.3 L120,443.7 L130,435.3 L136.7,430.5 L140,427.8 L143.3,424.7 L150,417.5 L158.3,408 L160,404.5 L165,399.7 L170,395 L176.7,391.5 L181.7,388 L190,383.8 L200,378.8 L206.7,375.5 L216.7,371.3 L220,370.5 L230,367.2 L238.3,365.2 L253.3,365.2 L263.3,366.7 L276.7,368.3 L290,368.3 L303.3,368.8 L310,370.5 L320,372.7 L330,373.3 L336.7,375 L340,375 L390,375 L403.3,374.3 L410,372.2 L420,372.2 L433.3,372.2 L440,369.3 L446.7,367.7 L451.7,366 L456.7,366.7 L460,368.8 L466.7,373.8 L475,377.2 L481.7,375 L488.3,378 L498.3,381.3 L508.3,383.8 L515,389.7 L523.3,396.3 L530,398 L536.7,403 L543.3,410.5 L550,417.5 L556.7,423.7 L563.3,430.3 L570,436.2 L576.7,441.2 L583.3,441.2 L590,440.3 L596.7,442 L601.7,443.7 L606.7,447 L613.3,447 L618.3,446.2 L625,449.2 L633.3,449.5 L640,449.2 L647.8,449.4 L658.2,449.4 L668.6,449.2 L677.7,450.1 L684.2,449.8 L692,449.4 L699.8,449.4 L707.6,449.2 L715.5,448.8" stroke="#009000" stroke-width="1" fill="none" stroke-linejoin="round" shape-rendering="crispEdges"/>
<path d="M0,448.7 L16.7,448.3 L33.3,449.5 L50,449.5 L63.3,448.7 L73.3,449.5 L90,449.5 L106.7,448.3 L116.7,446.2 L120,445.3 L130,444.5 L140,443.3 L150,439.5 L160,436.2 L170,433.7 L180,432 L191.7,429.5 L203.3,428.3 L213.3,429.5 L223.3,430.7 L230,429 L240,426 L250,423 L260,422.5 L268.3,420.7 L278.3,419.5 L286.7,417.3 L296.7,414.5 L306.7,412.8 L318.3,411.5 L326.7,408.7 L336.7,404.2 L340,402.2 L348.3,397.2 L356.7,391.3 L365,387.2 L373.3,383 L381.7,379.7 L388.3,376.3 L393.3,372.2 L398.3,368 L406.7,363.8 L415,361.7 L425,360.5 L440,360 L455,359.3 L460,360.5 L470,361.3 L486.7,361.3 L496.7,363.8 L508.3,364.7 L520,368.8 L530,369.7 L540,373 L550,377.2 L560,380.5 L565,382 L576.7,387 L588.3,391.2 L600,393.7 L611.7,396.2 L620,397.8 L626.7,402.8 L633.3,407 L640,411.1 L647.8,414.3 L655.6,416.9 L663.4,420.2 L671.2,424 L677.7,426 L684.2,427.6 L692,426.7 L699.8,426.7 L707.6,428 L715.5,430.8" stroke="#0044ee" stroke-width="1" fill="none" stroke-linejoin="round" shape-rendering="crispEdges"/>
<path d="M0,452 L10,454.5 L20,456.2 L31.7,457 L43.3,456.2 L53.3,453.7 L61.7,450.3 L66.7,445.3 L73.3,438.7 L79.2,426.2 L85,422 L90.8,417 L95,412 L100,404.5 L106.7,393 L111.7,381.3 L116.7,368 L121.7,356.3 L140,356 L158.3,355 L171.7,354.7 L180,357.2 L190,360.5 L200,363.8 L206.7,368 L213.3,375.5 L220,380.9 L225,387.2 L230,393 L232,399 L235,399.5 L240,400 L245,410 L250,421.7 L255,433.7 L260,443.7 L265,452.8 L271.7,447.8 L277.5,444.5 L281.7,437 L286.7,432 L291.7,423.7 L293.3,413.7 L296.7,404.5 L301.7,402 L306.7,401.2 L310,393.4 L313.3,388.3 L318.3,389.5 L320,386 L323.3,376 L328.3,369.7 L336.7,369.7 L340,371.3 L345,363 L350,357.2 L358.3,355.5 L365,355.5 L373.3,358.8 L381.7,358.8 L390,358 L400,358.8 L406.7,362.2 L413.3,366.3 L420,371.3 L426.7,379.7 L430,385.3 L436.7,397 L441.7,407 L446.7,417.8 L451.7,430.3 L457.5,443.7 L463.3,445.3 L470,453.3 L476.7,450.3 L483.3,453.7 L493.3,453.7 L503.3,454 L513.3,452.8 L520,452 L526.7,447.8 L535,443.7 L546.7,441.2 L550,441.2 L553.3,444.5 L560,437.8 L566.7,432.8 L571.7,434.5 L578.3,437 L583.3,430.3 L590,423.7 L596.7,414.5 L601.7,411.2 L606.7,401.2 L613.3,402.8 L620,396.2 L625,390.3 L631.7,387.8 L636.7,393.7 L640,403 L645.2,409.1 L650.4,411.7 L655.6,411.1 L659.5,419.5 L664.7,426 L669.9,430.6 L675.1,433.2 L680.3,435.1 L685.5,438.4 L690.7,439 L694.6,439.7 L699.8,442.9 L705,449.4 L710.2,453.3 L715.5,457.2" stroke="#ff90ff" stroke-width="1" fill="none" stroke-linejoin="round" shape-rendering="crispEdges"/>
<path d="M0,452.8 L10,455.3 L20,456.7 L31.7,457.8 L43.3,457 L53.3,455.3 L61.7,452.8 L66.7,448.7 L73.3,443.7 L79.2,438.7 L85,438.7 L90,432 L93.3,427 L98.3,417 L101.7,407.5 L106,401.5 L110,397.5 L116.7,391 L121.7,382 L126.7,378 L133.3,364.7 L139.2,355.5 L150,355 L158.3,354.3 L171.7,354.3 L181.7,358 L193.3,361.3 L206.7,363 L213.3,368 L220,371.8 L226.7,373.8 L231.7,378.8 L236.7,386.3 L241.7,396.3 L246.7,408 L250,417 L255,419.5 L260,417.8 L265,430.3 L270,437 L275,438.7 L280,442 L283.3,447 L288.3,446.2 L292.5,438.7 L294.2,430.3 L298.3,425.3 L301.7,420.3 L305,413.7 L310,403.7 L313.3,397 L316.7,390.3 L321.7,388.7 L326.7,385.3 L330,381.3 L336.7,378 L340,374.7 L345,368 L350,364.7 L356.7,363.8 L361.7,359.7 L366.7,356.3 L375,356.3 L381.7,359.7 L390,357.2 L398.3,358 L406.7,359.7 L413.3,364.7 L421.7,368.8 L430,374.7 L436.7,382 L443.3,388.7 L450,398.7 L455,410.3 L460,422 L465,432 L470,440.3 L475,450.3 L481.7,447 L486.7,449.5 L493.3,452.8 L500,451.2 L510,452 L520,452 L530,451.2 L540,450.3 L546.7,450.3 L550,450.3 L556.7,447 L565,443.7 L571.7,447.8 L578.3,447 L583.3,438.7 L590,423.7 L596.7,417.8 L601.7,412 L608.3,407.8 L615,407.8 L620,399.5 L625.8,396.2 L628.3,400.3 L633.3,408.7 L640,408 L645.2,408.5 L649.1,405.9 L653,413 L658.2,419.5 L663.4,424.1 L668.6,429.3 L673.8,431.9 L679,431.2 L684.2,433.8 L689.4,439 L692,448.1 L697.2,454.6 L702.4,455.9 L707.6,454.6 L715.5,459.2" stroke="#ff60ff" stroke-width="1" fill="none" stroke-linejoin="round" shape-rendering="crispEdges"/>
<path d="M0,457.8 L10,458.7 L20,459 L31.7,458.7 L43.3,459 L50,457.8 L58.3,457 L63.3,454.5 L70,452 L75,449.5 L81.7,446.2 L86.7,444.5 L91.7,442.3 L96.7,435.3 L100,428.5 L105,420.5 L110,411 L116.7,397 L121.7,388.3 L130,383.5 L138.3,374.7 L145,369.7 L150,363 L156.7,355.5 L161.7,353.8 L171.7,353.5 L180,355 L190,357.2 L200,359.7 L208.3,361.3 L216.7,365.5 L223.3,367.2 L230,369.5 L233.3,373 L238.3,378 L241.7,382 L246.7,390.3 L251.7,397.8 L256.7,408.7 L260.8,417.3 L265,423 L271.7,423 L276.7,418.7 L280,422 L285,427.8 L290,432 L295,429.5 L301.7,429.5 L306.7,425.3 L311.7,416 L316.7,410.3 L320,407 L323.3,399 L326.7,390 L330,384.5 L333.3,381 L336.7,381.3 L343.3,380.5 L345,378 L348.3,373 L356.7,370.5 L360,362.2 L366.7,360.5 L373.3,359.7 L380,358.8 L385,356.3 L393.3,356 L405,356.3 L411.7,359.7 L418.3,363 L425,366.3 L431.7,369.7 L440,376.3 L445.8,382 L451.7,387.8 L456.7,395.3 L461.7,405.3 L465,412 L470,419 L474.2,427.8 L480,435.3 L486.7,442.8 L490,447 L493.3,453.3 L500,454 L505,455.3 L510,453.3 L520,454 L530,453.3 L536.7,454.5 L546.7,452 L553.3,453.7 L560,451.2 L570,448.7 L576.7,450.3 L583.3,444.5 L590,439.5 L595,430.3 L600,421.2 L605,413.7 L610,409.5 L618.3,406.2 L625,413.7 L631.7,421.2 L636.7,412.8 L643.3,414.5 L645.2,416.9 L650.4,423.4 L655.6,426.7 L660.8,428.3 L666,422.1 L671.2,425.4 L676.4,431.2 L681.6,436.4 L685.5,440.3 L690.7,439 L695.9,441.6 L701.1,444.2 L706.3,446.8 L710.2,448.1 L715.5,448.5" stroke="#ff00ff" stroke-width="1" fill="none" stroke-linejoin="round" shape-rendering="crispEdges"/>
<path d="M0,20h1V477h-1zM734,20h1V500h-1zM0,350h716v1h-716zM0,463h716v1h-716zM0,476h780v1h-780zM735,32h5v1h-5zM735,70h5v1h-5zM735,109h5v1h-5zM735,148h5v1h-5zM735,187h5v1h-5zM735,226h5v1h-5zM735,265h5v1h-5zM735,304h5v1h-5zM735,350h5v1h-5zM735,387h5v1h-5zM735,426h5v1h-5zM735,463h5v1h-5zM31,477h1v4h-1zM181,477h1v4h-1zM277,477h1v4h-1zM373,477h1v4h-1zM469,477h1v4h-1zM547,477h1v4h-1zM643,477h1v4h-1z" fill="#000" shape-rendering="crispEdges"/>
<text transform="translate(742.5,38) scale(0.85,1)" x="3.53 10.59 17.65 24.71 31.76" y="0" text-anchor="middle" style="font-family:'Liberation Sans','IPAGothic',sans-serif;font-size:12.5px" fill="#000" stroke="#000" stroke-width="0.1">8,911</text>
<text transform="translate(742.5,76) scale(0.85,1)" x="3.53 10.59 17.65 24.71 31.76" y="0" text-anchor="middle" style="font-family:'Liberation Sans','IPAGothic',sans-serif;font-size:12.5px" fill="#000" stroke="#000" stroke-width="0.1">8,891</text>
<text transform="translate(742.5,115) scale(0.85,1)" x="3.53 10.59 17.65 24.71 31.76" y="0" text-anchor="middle" style="font-family:'Liberation Sans','IPAGothic',sans-serif;font-size:12.5px" fill="#000" stroke="#000" stroke-width="0.1">8,871</text>
<text transform="translate(742.5,154) scale(0.85,1)" x="3.53 10.59 17.65 24.71 31.76" y="0" text-anchor="middle" style="font-family:'Liberation Sans','IPAGothic',sans-serif;font-size:12.5px" fill="#000" stroke="#000" stroke-width="0.1">8,851</text>
<text transform="translate(742.5,193) scale(0.85,1)" x="3.53 10.59 17.65 24.71 31.76" y="0" text-anchor="middle" style="font-family:'Liberation Sans','IPAGothic',sans-serif;font-size:12.5px" fill="#000" stroke="#000" stroke-width="0.1">8,831</text>
<text transform="translate(742.5,232) scale(0.85,1)" x="3.53 10.59 17.65 24.71 31.76" y="0" text-anchor="middle" style="font-family:'Liberation Sans','IPAGothic',sans-serif;font-size:12.5px" fill="#000" stroke="#000" stroke-width="0.1">8,811</text>
<text transform="translate(742.5,271) scale(0.85,1)" x="3.53 10.59 17.65 24.71 31.76" y="0" text-anchor="middle" style="font-family:'Liberation Sans','IPAGothic',sans-serif;font-size:12.5px" fill="#000" stroke="#000" stroke-width="0.1">8,791</text>
<text transform="translate(742.5,310) scale(0.85,1)" x="3.53 10.59 17.65 24.71 31.76" y="0" text-anchor="middle" style="font-family:'Liberation Sans','IPAGothic',sans-serif;font-size:12.5px" fill="#000" stroke="#000" stroke-width="0.1">8,771</text>
<text transform="translate(742.5,356) scale(0.85,1)" x="3.53 10.59 17.65 24.71 31.76 38.82" y="0" text-anchor="middle" style="font-family:'Liberation Sans','IPAGothic',sans-serif;font-size:12.5px" fill="#000" stroke="#000" stroke-width="0.1">100.00</text>
<text transform="translate(742.5,393) scale(0.85,1)" x="3.53 10.59 17.65 24.71 31.76" y="0" text-anchor="middle" style="font-family:'Liberation Sans','IPAGothic',sans-serif;font-size:12.5px" fill="#000" stroke="#000" stroke-width="0.1">35.00</text>
<text transform="translate(742.5,432) scale(0.85,1)" x="3.53 10.59 17.65 24.71 31.76 38.82" y="0" text-anchor="middle" style="font-family:'Liberation Sans','IPAGothic',sans-serif;font-size:12.5px" fill="#000" stroke="#000" stroke-width="0.1">-35.00</text>
<text transform="translate(742.5,469) scale(0.85,1)" x="3.53 10.59 17.65 24.71 31.76 38.82 45.88" y="0" text-anchor="middle" style="font-family:'Liberation Sans','IPAGothic',sans-serif;font-size:12.5px" fill="#000" stroke="#000" stroke-width="0.1">-100.00</text>
<text transform="translate(31,496) scale(0.85,1)" x="3.53 10.59 17.65 24.71 31.76" y="0" text-anchor="middle" style="font-family:'Liberation Sans','IPAGothic',sans-serif;font-size:12.5px" fill="#000" stroke="#000" stroke-width="0.1">13:20</text>
<text transform="translate(181,496) scale(0.85,1)" x="3.53 10.59 17.65 24.71 31.76" y="0" text-anchor="middle" style="font-family:'Liberation Sans','IPAGothic',sans-serif;font-size:12.5px" fill="#000" stroke="#000" stroke-width="0.1">18:40</text>
<text transform="translate(277,496) scale(0.85,1)" x="3.53 10.59 17.65 24.71 31.76" y="0" text-anchor="middle" style="font-family:'Liberation Sans','IPAGothic',sans-serif;font-size:12.5px" fill="#000" stroke="#000" stroke-width="0.1">21:20</text>
<text transform="translate(373,496) scale(0.85,1)" x="3.53 10.59 17.65 24.71 31.76" y="0" text-anchor="middle" style="font-family:'Liberation Sans','IPAGothic',sans-serif;font-size:12.5px" fill="#000" stroke="#000" stroke-width="0.1">10/02</text>
<text transform="translate(469,496) scale(0.85,1)" x="3.53 10.59 17.65 24.71 31.76" y="0" text-anchor="middle" style="font-family:'Liberation Sans','IPAGothic',sans-serif;font-size:12.5px" fill="#000" stroke="#000" stroke-width="0.1">02:40</text>
<text transform="translate(547,496) scale(0.85,1)" x="3.53 10.59 17.65 24.71 31.76" y="0" text-anchor="middle" style="font-family:'Liberation Sans','IPAGothic',sans-serif;font-size:12.5px" fill="#000" stroke="#000" stroke-width="0.1">10:40</text>
<text transform="translate(643,496) scale(0.85,1)" x="3.53 10.59 17.65 24.71 31.76" y="0" text-anchor="middle" style="font-family:'Liberation Sans','IPAGothic',sans-serif;font-size:12.5px" fill="#000" stroke="#000" stroke-width="0.1">13:20</text>
<text x="342" y="113.5" style="font-family:'Liberation Mono','IPAGothic',monospace;font-size:19px" fill="#000" stroke="#000" stroke-width="0.2">←</text><text x="353.5" y="115" style="font-family:'Liberation Mono','IPAGothic',monospace;font-size:12.5px" fill="#000" stroke="#000" stroke-width="0.2">最大</text><text transform="translate(383.5,114) scale(1.0,1)" x="3.00" y="0" text-anchor="middle" style="font-family:'Liberation Sans','IPAGothic',sans-serif;font-size:12.5px" fill="#000" stroke="#000" stroke-width="0.7">:</text><text transform="translate(395.5,114.5) scale(0.85,1)" x="3.53 10.59 17.65 24.71 31.76" y="0" text-anchor="middle" style="font-family:'Liberation Sans','IPAGothic',sans-serif;font-size:12.5px" fill="#000" stroke="#000" stroke-width="0.1">8,870</text><text transform="translate(431.5,114.5) scale(0.85,1)" x="3.53 10.59 17.65 24.71 31.76 38.82 45.88 52.94 60.00 67.06 74.12 81.18" y="0" text-anchor="middle" style="font-family:'Liberation Sans','IPAGothic',sans-serif;font-size:12.5px" fill="#000" stroke="#000" stroke-width="0.1">(2012/10/01)</text>
<text x="6" y="328.5" style="font-family:'Liberation Mono','IPAGothic',monospace;font-size:19px" fill="#000" stroke="#000" stroke-width="0.2">←</text><text x="17.5" y="330" style="font-family:'Liberation Mono','IPAGothic',monospace;font-size:12.5px" fill="#000" stroke="#000" stroke-width="0.2">最低</text><text transform="translate(47.5,329) scale(1.0,1)" x="3.00" y="0" text-anchor="middle" style="font-family:'Liberation Sans','IPAGothic',sans-serif;font-size:12.5px" fill="#000" stroke="#000" stroke-width="0.7">:</text><text transform="translate(59.5,329.5) scale(0.85,1)" x="3.53 10.59 17.65 24.71 31.76" y="0" text-anchor="middle" style="font-family:'Liberation Sans','IPAGothic',sans-serif;font-size:12.5px" fill="#000" stroke="#000" stroke-width="0.1">8,760</text><text transform="translate(95.5,329.5) scale(0.85,1)" x="3.53 10.59 17.65 24.71 31.76 38.82 45.88 52.94 60.00 67.06 74.12 81.18" y="0" text-anchor="middle" style="font-family:'Liberation Sans','IPAGothic',sans-serif;font-size:12.5px" fill="#000" stroke="#000" stroke-width="0.1">(2012/10/01)</text>
<text x="301.5" y="348.4" style="font-family:'Liberation Sans','Noto Sans CJK JP',sans-serif;font-weight:bold;font-size:14px;letter-spacing:1.2px" fill="#ff0000" stroke="#fff" stroke-width="3" stroke-linejoin="round" paint-order="stroke">（夜間の天井）</text>
<text x="696" y="481" style="font-family:'Liberation Sans','Noto Sans CJK JP',sans-serif;font-weight:bold;font-size:17.5px" fill="#ff0000" stroke="#fff" stroke-width="3" stroke-linejoin="round" paint-order="stroke">底値</text>
<g id="toolbar">
<defs><linearGradient id="gbtn" x1="0" y1="0" x2="0" y2="1"><stop offset="0" stop-color="#ffffff"/><stop offset="0.6" stop-color="#f4f4f2"/><stop offset="1" stop-color="#d8d8d4"/></linearGradient><linearGradient id="gfirst" x1="0" y1="0" x2="0" y2="1"><stop offset="0" stop-color="#ffffff"/><stop offset="1" stop-color="#b8b8b8"/></linearGradient><linearGradient id="gbar" x1="0" y1="0" x2="0" y2="1"><stop offset="0" stop-color="#bcc2c9"/><stop offset="1" stop-color="#c8ced6"/></linearGradient></defs>
<rect x="0" y="0" width="780" height="20" fill="#bfc3c9"/>
<rect x="0" y="16.5" width="780" height="3.5" fill="#c4c8ce"/>
<rect x="0" y="16.5" width="780" height="1" fill="#d4d8de"/>
<rect x="0" y="-1" width="17" height="17.5" fill="url(#gfirst)"/>
<path d="M16.5,0V16H0.5V0" stroke="#000" stroke-width="1" fill="none"/>
<path d="M5,6h7v1h-1v1h-1v1h-1v1h-1v-1h-1v-1h-1v-1h-1z" fill="#000"/>
<rect x="22" y="0" width="79" height="16.5" fill="#fff"/>
<rect x="21" y="0" width="1" height="16" fill="#707070"/>
<rect x="83" y="0" width="17" height="16" fill="#dde1e6"/>
<rect x="85" y="1.5" width="13" height="12.5" fill="#ece9d8"/>
<rect x="98" y="1" width="1" height="14" fill="#a8a8a2"/>
<rect x="84" y="14" width="15" height="1" fill="#a8a8a2"/>
<rect x="99" y="0" width="1" height="16" fill="#606468"/>
<rect x="83" y="15" width="17" height="1" fill="#606468"/>
<rect x="100" y="0" width="2" height="16.5" fill="#e2e6ea"/>
<path d="M87.0,6h7v1h-1v1h-1v1h-1v1h-1v-1h-1v-1h-1v-1h-1z" fill="#000"/>
<text x="24" y="12" style="font-family:'Liberation Sans','IPAGothic',sans-serif;font-size:13px;letter-spacing:-1px" fill="#000" stroke="#000" stroke-width="0.3">先物</text>
<rect x="102" y="0" width="115" height="16.5" fill="#fff"/>
<rect x="101" y="0" width="1" height="16" fill="#707070"/>
<rect x="199" y="0" width="17" height="16" fill="#dde1e6"/>
<rect x="201" y="1.5" width="13" height="12.5" fill="#ece9d8"/>
<rect x="214" y="1" width="1" height="14" fill="#a8a8a2"/>
<rect x="200" y="14" width="15" height="1" fill="#a8a8a2"/>
<rect x="215" y="0" width="1" height="16" fill="#606468"/>
<rect x="199" y="15" width="17" height="1" fill="#606468"/>
<rect x="216" y="0" width="2" height="16.5" fill="#e2e6ea"/>
<path d="M203.0,6h7v1h-1v1h-1v1h-1v1h-1v-1h-1v-1h-1v-1h-1z" fill="#000"/>
<text x="104.0" y="12" style="font-family:'Liberation Sans','IPAGothic',sans-serif;font-size:13px;letter-spacing:-1px" fill="#000" stroke="#000" stroke-width="0.3">日経<tspan x="128.5" textLength="44.5" lengthAdjust="spacingAndGlyphs" style="letter-spacing:0;font-size:12px">225mini</tspan></text>
<rect x="218" y="0" width="88" height="16.5" fill="#fff"/>
<rect x="217" y="0" width="1" height="16" fill="#707070"/>
<rect x="288" y="0" width="17" height="16" fill="#dde1e6"/>
<rect x="290" y="1.5" width="13" height="12.5" fill="#ece9d8"/>
<rect x="303" y="1" width="1" height="14" fill="#a8a8a2"/>
<rect x="289" y="14" width="15" height="1" fill="#a8a8a2"/>
<rect x="304" y="0" width="1" height="16" fill="#606468"/>
<rect x="288" y="15" width="17" height="1" fill="#606468"/>
<rect x="305" y="0" width="2" height="16.5" fill="#e2e6ea"/>
<path d="M292.0,6h7v1h-1v1h-1v1h-1v1h-1v-1h-1v-1h-1v-1h-1z" fill="#000"/>
<text x="220.5" y="11.5" textLength="29.5" lengthAdjust="spacingAndGlyphs" style="font-family:'Liberation Sans','IPAGothic',sans-serif;font-size:13px;letter-spacing:-1px;letter-spacing:0;font-size:12.5px" fill="#000" stroke="#000" stroke-width="0.2">12/12</text>
<rect x="311" y="0" width="20" height="16.5" fill="#000"/>
<text x="321.0" y="12" text-anchor="middle" style="font-family:'Liberation Sans','IPAGothic',sans-serif;font-size:13px;letter-spacing:-1px" fill="#fff" stroke="#fff" stroke-width="0.1">足</text>
<rect x="331.5" y="14" width="38.5" height="2.5" fill="#f1eedc"/>
<rect x="331.5" y="0" width="24.5" height="14.3" fill="#d6dade"/>
<rect x="331.5" y="0" width="1" height="14.3" fill="#8a8e92"/>
<text x="354.5" y="11" text-anchor="end" style="font-family:'Liberation Sans','IPAGothic',sans-serif;font-size:13px;letter-spacing:-1px;font-size:12px;letter-spacing:0" fill="#aca899" stroke="#aca899" stroke-width="0.15">1</text>
<rect x="356" y="1" width="13" height="13" fill="#ecebe4"/>
<path d="M356,14L369,1V14z" fill="#c9c5b6"/>
<path d="M358.5,12.5L367.5,3V12.5z" fill="#d8d4c6"/>
<path d="M356,14.2L369,0.8" stroke="#000" stroke-width="1.3" fill="none"/>
<path d="M368.5,1V13.5H356" stroke="#222" stroke-width="1" fill="none"/>
<path d="M358,5.2l2,-2.2l2,2.2z" fill="#000"/>
<rect x="372.0" y="-3.5" width="18.5" height="19.5" rx="3" ry="3" fill="url(#gbtn)" stroke="#5a5a5a" stroke-width="1"/>
<path d="M373.0,0V13.5" stroke="#fff" stroke-width="1" fill="none" opacity="0.7"/>
<text x="381.25" y="11.8" text-anchor="middle" style="font-family:'Liberation Sans','IPAGothic',sans-serif;font-size:13px;letter-spacing:-1px" fill="#000" stroke="#000" stroke-width="0.1">日</text>
<rect x="392.0" y="-3.5" width="18.5" height="19.5" rx="3" ry="3" fill="url(#gbtn)" stroke="#5a5a5a" stroke-width="1"/>
<path d="M393.0,0V13.5" stroke="#fff" stroke-width="1" fill="none" opacity="0.7"/>
<text x="401.25" y="11.8" text-anchor="middle" style="font-family:'Liberation Sans','IPAGothic',sans-serif;font-size:13px;letter-spacing:-1px" fill="#000" stroke="#000" stroke-width="0.1">週</text>
<rect x="412.0" y="-3.5" width="18.5" height="19.5" rx="3" ry="3" fill="url(#gbtn)" stroke="#5a5a5a" stroke-width="1"/>
<path d="M413.0,0V13.5" stroke="#fff" stroke-width="1" fill="none" opacity="0.7"/>
<text x="421.25" y="11.8" text-anchor="middle" style="font-family:'Liberation Sans','IPAGothic',sans-serif;font-size:13px;letter-spacing:-1px" fill="#000" stroke="#000" stroke-width="0.1">月</text>
<rect x="432.0" y="-3.5" width="18.5" height="19.5" rx="3" ry="3" fill="url(#gbtn)" stroke="#5a5a5a" stroke-width="1"/>
<path d="M433.0,0V13.5" stroke="#fff" stroke-width="1" fill="none" opacity="0.7"/>
<text x="441.25" y="11.8" text-anchor="middle" style="font-family:'Liberation Sans','IPAGothic',sans-serif;font-size:13px;letter-spacing:-1px" fill="#000" stroke="#000" stroke-width="0.1"></text>
<rect x="432.5" y="0" width="18" height="14.5" fill="#ffff00"/>
<text x="441.5" y="11.8" text-anchor="middle" style="font-family:'Liberation Sans','IPAGothic',sans-serif;font-size:13px;letter-spacing:-1px" fill="#000" stroke="#000" stroke-width="0.1">分</text>
<rect x="452.0" y="-3.5" width="18.5" height="19.5" rx="3" ry="3" fill="url(#gbtn)" stroke="#5a5a5a" stroke-width="1"/>
<path d="M453.0,0V13.5" stroke="#fff" stroke-width="1" fill="none" opacity="0.7"/>
<text x="461.25" y="11.8" text-anchor="middle" style="font-family:'Liberation Sans','IPAGothic',sans-serif;font-size:13px;letter-spacing:-1px" fill="#000" stroke="#000" stroke-width="0.1">T</text>
<rect x="481" y="0" width="20" height="16.5" fill="#000"/>
<text x="491.0" y="12" text-anchor="middle" style="font-family:'Liberation Sans','IPAGothic',sans-serif;font-size:13px;letter-spacing:-1px" fill="#fff" stroke="#fff" stroke-width="0.1">分</text>
<rect x="502" y="14" width="39" height="2.5" fill="#f1eedc"/>
<rect x="502" y="0" width="24" height="14.3" fill="#fff"/>
<rect x="502" y="0" width="1" height="14.3" fill="#8a8e92"/>
<text x="524.5" y="11" text-anchor="end" style="font-family:'Liberation Sans','IPAGothic',sans-serif;font-size:13px;letter-spacing:-1px;font-size:12px;letter-spacing:0" fill="#000" stroke="#000" stroke-width="0.15">10</text>
<rect x="526" y="1" width="14" height="13" fill="#ecebe4"/>
<path d="M526,14L540,1V14z" fill="#c9c5b6"/>
<path d="M528.5,12.5L538.5,3V12.5z" fill="#d8d4c6"/>
<path d="M526,14.2L540,0.8" stroke="#000" stroke-width="1.3" fill="none"/>
<path d="M539.5,1V13.5H526" stroke="#222" stroke-width="1" fill="none"/>
<path d="M528,5.2l2,-2.2l2,2.2z" fill="#000"/>
<rect x="542" y="0" width="29.5" height="16.5" fill="#000"/>
<text x="556.75" y="12" text-anchor="middle" style="font-family:'Liberation Sans','IPAGothic',sans-serif;font-size:13px;letter-spacing:-1px" fill="#fff" stroke="#fff" stroke-width="0.1">本数</text>
<rect x="573" y="14" width="48" height="2.5" fill="#f1eedc"/>
<rect x="573" y="0" width="33" height="14.3" fill="#fff"/>
<rect x="573" y="0" width="1" height="14.3" fill="#8a8e92"/>
<text x="604.5" y="11" text-anchor="end" style="font-family:'Liberation Sans','IPAGothic',sans-serif;font-size:13px;letter-spacing:-1px;font-size:12px;letter-spacing:0" fill="#000" stroke="#000" stroke-width="0.15">500</text>
<rect x="606" y="1" width="14" height="13" fill="#ecebe4"/>
<path d="M606,14L620,1V14z" fill="#c9c5b6"/>
<path d="M608.5,12.5L618.5,3V12.5z" fill="#d8d4c6"/>
<path d="M606,14.2L620,0.8" stroke="#000" stroke-width="1.3" fill="none"/>
<path d="M619.5,1V13.5H606" stroke="#222" stroke-width="1" fill="none"/>
<path d="M608,5.2l2,-2.2l2,2.2z" fill="#000"/>
<rect x="622.0" y="-3.5" width="34.0" height="19.5" rx="3" ry="3" fill="url(#gbtn)" stroke="#5a5a5a" stroke-width="1"/>
<path d="M623.0,0V13.5" stroke="#fff" stroke-width="1" fill="none" opacity="0.7"/>
<text x="639.0" y="11.8" text-anchor="middle" style="font-family:'Liberation Sans','IPAGothic',sans-serif;font-size:13px;letter-spacing:-1px" fill="#000" stroke="#000" stroke-width="0.1">適用</text>
<rect x="722.0" y="-3.5" width="60.5" height="19.5" rx="3" ry="3" fill="url(#gbtn)" stroke="#5a5a5a" stroke-width="1"/>
<path d="M723.0,0V13.5" stroke="#fff" stroke-width="1" fill="none" opacity="0.7"/>
<text x="751.5" y="11.8" text-anchor="middle" style="font-family:'Liberation Sans','IPAGothic',sans-serif;font-size:13px;letter-spacing:-1px" fill="#000" stroke="#000" stroke-width="0.1">複数銘柄</text>
</g>
</svg>

</body></html>
